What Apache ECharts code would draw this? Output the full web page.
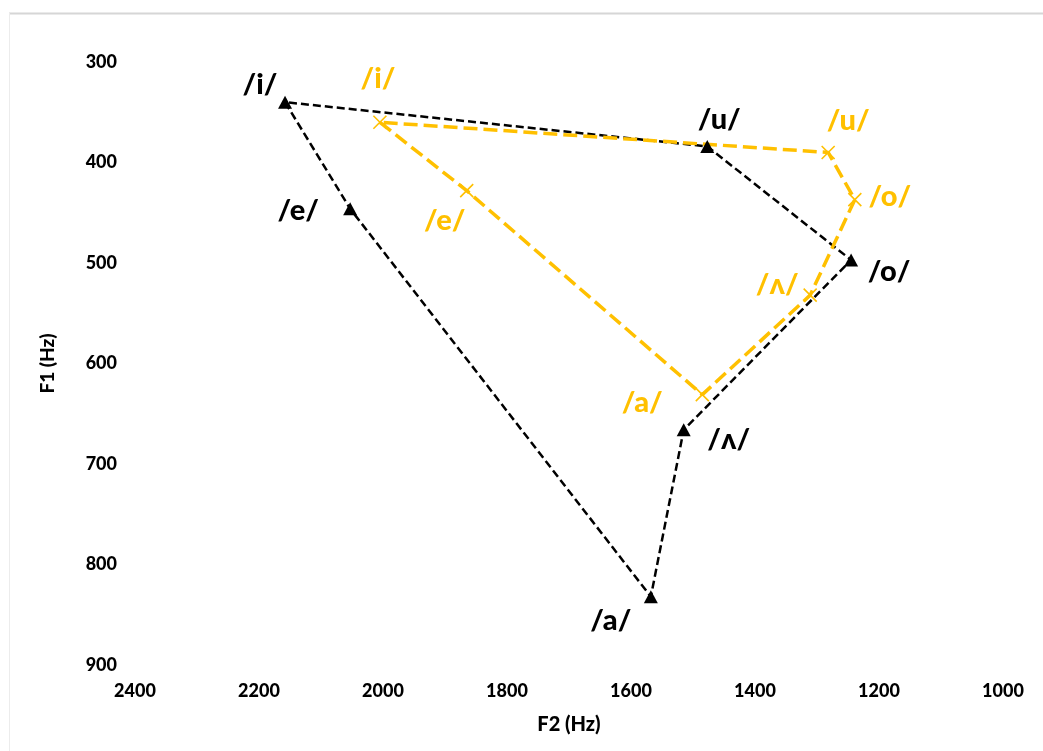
<!DOCTYPE html>
<html>
<head>
<meta charset="utf-8">
<script src="https://cdn.jsdelivr.net/npm/echarts@6/dist/echarts.min.js"></script>
<style>
html,body{margin:0;padding:0;background:#fff;}
#chart{width:1043px;height:751px;}
</style>
</head>
<body>
<div id="chart"></div>
<script>
// ---- data ----
var vowels = ['/i/', '/e/', '/a/', '/ʌ/', '/o/', '/u/'];
var blackF2 = [2158, 2053, 1568, 1515, 1245, 1477];
var blackF1 = [340, 446, 832, 666, 497, 384];
var goldF2 = [2005, 1865, 1485, 1311, 1239, 1282];
var goldF1 = [360, 428, 631, 532, 437, 390];
var xTicks = [2400, 2200, 2000, 1800, 1600, 1400, 1200, 1000];
var yTicks = [300, 400, 500, 600, 700, 800, 900];

// ---- layout (label offsets in px) ----
var blackLabelOffsets = [[-25, -18], [-52, 2], [-40, 24], [45, 10], [38, 12], [12, -27]];
var goldLabelOffsets = [[-2, -44], [-22, 30], [-60, 8], [-33, -11], [35, -3], [20, -32]];

var FONT = 'Lato, "DejaVu Sans", sans-serif';
var GOLD = '#FFC000';

function pts(xs, ys) {
  return xs.map(function (x, i) { return [x, ys[i]]; });
}
function closed(xs, ys) {
  var p = pts(xs, ys);
  return p.concat([p[0]]);
}
function labelled(xs, ys, offs, color) {
  return xs.map(function (x, i) {
    return {
      value: [x, ys[i]],
      name: vowels[i],
      label: { show: true, position: 'inside', offset: offs[i], formatter: vowels[i],
               color: color, fontFamily: FONT, fontWeight: 900, fontSize: 29 }
    };
  });
}

var chart = echarts.init(document.getElementById('chart'), null, { renderer: 'canvas' });
chart.setOption({
  backgroundColor: '#ffffff',
  animation: false,
  graphic: [
    { type: 'line', shape: { x1: 9, y1: 13.5, x2: 1043, y2: 13.5 }, style: { stroke: '#d6d6d6', lineWidth: 2 } },
    { type: 'line', shape: { x1: 9.5, y1: 13, x2: 9.5, y2: 751 }, style: { stroke: '#ececec', lineWidth: 1 } }
  ],
  grid: { left: 135, right: 40, top: 62, bottom: 86 },
  xAxis: {
    type: 'value', inverse: true, min: 1000, max: 2400, interval: 200,
    name: 'F2 (Hz)', nameLocation: 'middle', nameGap: 50,
    nameTextStyle: { fontFamily: FONT, fontWeight: 900, fontSize: 20, color: '#000' },
    axisLine: { show: false }, axisTick: { show: false }, splitLine: { show: false },
    axisLabel: { margin: 17, fontFamily: FONT, fontWeight: 900, fontSize: 18, color: '#000',
      formatter: function (v) { return xTicks.indexOf(v) >= 0 ? String(v) : ''; } }
  },
  yAxis: {
    type: 'value', inverse: true, min: 300, max: 900, interval: 100,
    name: 'F1 (Hz)', nameLocation: 'middle', nameGap: 78, nameRotate: 90,
    nameTextStyle: { fontFamily: FONT, fontWeight: 900, fontSize: 19, color: '#000' },
    axisLine: { show: false }, axisTick: { show: false }, splitLine: { show: false },
    axisLabel: { margin: 18, fontFamily: FONT, fontWeight: 900, fontSize: 18, color: '#000',
      formatter: function (v) { return yTicks.indexOf(v) >= 0 ? String(v) : ''; } }
  },
  series: [
    {
      type: 'line', data: closed(blackF2, blackF1), showSymbol: false, symbol: 'none',
      lineStyle: { color: '#000', width: 2.5, type: [8, 4] }, z: 2
    },
    {
      type: 'line', data: closed(goldF2, goldF1), showSymbol: false, symbol: 'none',
      lineStyle: { color: GOLD, width: 3.5, type: [14, 6] }, z: 3
    },
    {
      type: 'scatter', data: labelled(blackF2, blackF1, blackLabelOffsets, '#000'),
      symbol: 'triangle', symbolSize: [14, 13], itemStyle: { color: '#000', opacity: 1 }, z: 4
    },
    {
      type: 'scatter', data: labelled(goldF2, goldF1, goldLabelOffsets, GOLD),
      symbol: 'path://M0,0L10,10M10,0L0,10', symbolSize: 13,
      itemStyle: { color: 'none', borderColor: GOLD, borderWidth: 1.6, opacity: 1 }, z: 5
    }
  ]
});
</script>
</body>
</html>
